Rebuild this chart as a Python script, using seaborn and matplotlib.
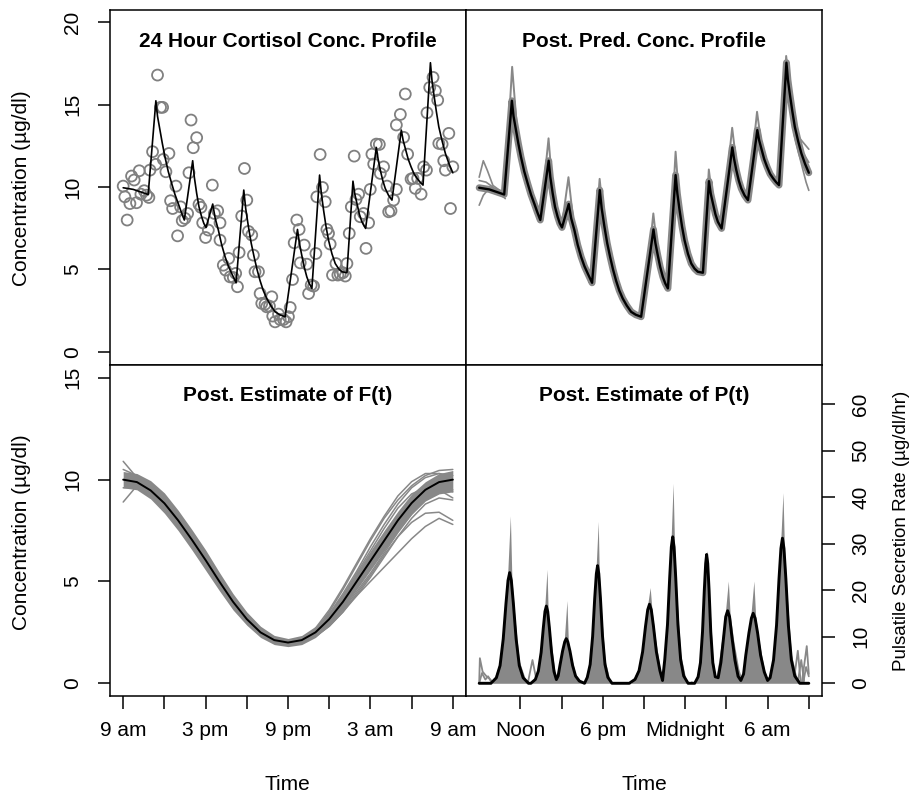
import matplotlib
matplotlib.use('Agg')
import matplotlib.pyplot as plt
import seaborn as sns

GREY = '#888888'
W, H = 911, 794

# observed cortisol samples (hours after 9 am, ug/dl)
obs_hours = [0.0, 0.12, 0.29, 0.49, 0.61, 0.8, 0.97, 1.17, 1.29, 1.53,
             1.7, 1.87, 1.95, 2.14, 2.36, 2.5, 2.72, 2.87, 2.92, 3.11,
             3.33, 3.45, 3.6, 3.84, 3.96, 4.18, 4.3, 4.5, 4.69, 4.79,
             4.94, 5.1, 5.35, 5.52, 5.66, 5.79, 6.0, 6.2, 6.49, 6.64,
             6.88, 7.05, 7.05, 7.29, 7.46, 7.68, 7.78, 8.02, 8.19, 8.32,
             8.44, 8.63, 8.83, 9.0, 9.12, 9.36, 9.48, 9.6, 9.85, 9.97,
             10.09, 10.33, 10.45, 10.65, 10.82, 10.89, 11.06, 11.31, 11.43, 11.67,
             11.86, 12.03, 12.16, 12.33, 12.45, 12.64, 12.81, 12.89, 13.18, 13.37,
             13.5, 13.69, 13.86, 14.03, 14.1, 14.34, 14.51, 14.71, 14.83, 14.95,
             15.07, 15.24, 15.49, 15.63, 15.8, 16.0, 16.17, 16.29, 16.46, 16.61,
             16.82, 16.95, 17.14, 17.26, 17.5, 17.68, 17.87, 17.99, 18.11, 18.24,
             18.43, 18.65, 18.72, 18.96, 19.21, 19.33, 19.5, 19.69, 19.89, 19.89,
             20.18, 20.42, 20.54, 20.71, 20.96, 21.1, 21.27, 21.44, 21.69, 21.88,
             22.08, 22.12, 22.32, 22.56, 22.73, 22.9, 22.98, 23.22, 23.34, 23.46,
             23.71, 23.83, 24.0]
obs_conc = [10.06, 9.41, 8.0, 9.0, 10.67, 10.43, 9.05, 10.99, 9.57, 9.78,
            9.51, 9.37, 11.03, 12.15, 11.38, 16.8, 14.84, 14.84, 11.68, 10.93,
            12.04, 9.17, 8.7, 10.06, 7.04, 8.8, 7.96, 8.1, 8.4, 10.87,
            14.07, 12.39, 13.0, 8.95, 8.77, 7.83, 6.94, 7.39, 10.12, 8.4,
            8.56, 7.83, 6.78, 5.26, 4.96, 5.67, 4.55, 4.51, 4.76, 3.95,
            6.03, 8.24, 11.13, 9.21, 7.31, 7.09, 5.87, 4.86, 4.86, 3.54,
            2.94, 2.89, 2.73, 2.77, 3.34, 2.17, 1.82, 2.29, 1.96, 1.96,
            1.82, 2.13, 2.69, 4.39, 6.62, 8.0, 7.43, 5.4, 6.48, 5.32,
            3.54, 4.05, 3.99, 5.97, 9.41, 11.98, 9.98, 9.11, 7.43, 7.19,
            6.54, 4.66, 5.36, 4.66, 4.72, 4.8, 4.6, 5.36, 7.19, 8.8,
            11.88, 9.25, 9.57, 8.2, 8.4, 6.28, 7.83, 9.86, 12.0, 11.4,
            12.61, 12.59, 10.83, 11.23, 10.06, 8.5, 8.56, 9.21, 9.86, 13.77,
            14.41, 13.02, 15.65, 12.0, 10.49, 10.53, 9.92, 10.53, 9.57, 11.23,
            11.03, 14.51, 16.05, 16.66, 15.85, 15.28, 12.65, 12.61, 11.6, 11.03,
            13.26, 8.7, 11.23]

# fitted concentration profile (also the posterior predictive mean)
fit_hours = [0, 0.73, 1.82, 2.38, 2.5, 2.67, 2.85, 3.04, 3.28, 3.53, 3.77, 4.01, 4.23, 4.45,
             5.06, 5.18, 5.35, 5.52, 5.71, 5.87, 6.03,
             6.52, 6.7, 6.93, 7.17, 7.42, 7.66, 7.9, 8.22,
             8.78, 8.92, 9.12, 9.32, 9.53, 9.75, 9.97, 10.2, 10.45, 10.75, 11.06, 11.4, 11.79,
             12.69, 12.83, 13.0, 13.18, 13.37, 13.55, 13.74,
             14.3, 14.43, 14.59, 14.77, 14.95, 15.2, 15.44, 15.68, 15.92, 16.29,
             16.73, 16.86, 17.02, 17.2, 17.38, 17.65,
             18.43, 18.56, 18.72, 18.9, 19.08, 19.32, 19.57,
             20.25, 20.38, 20.54, 20.75, 20.96, 21.18, 21.4, 21.62, 21.83,
             22.37, 22.48, 22.61, 22.8, 22.98, 23.22, 23.46, 23.73, 24.0]
fit_conc = [9.96, 9.86, 9.55, 15.24, 14.3, 13.5, 12.65, 11.84, 10.95, 10.22, 9.55, 9.0, 8.48, 8.0,
            11.6, 10.6, 9.62, 8.8, 8.2, 7.8, 7.55,
            8.97, 8.1, 7.39, 6.5, 5.77, 5.2, 4.76, 4.19,
            9.82, 8.7, 7.59, 6.6, 5.77, 4.98, 4.31, 3.72, 3.24, 2.8, 2.43, 2.25, 2.13,
            7.43, 6.6, 5.87, 5.15, 4.55, 4.15, 3.85,
            10.73, 9.6, 8.6, 7.6, 6.78, 5.95, 5.36, 5.05, 4.86, 4.8,
            10.36, 9.6, 9.0, 8.35, 7.89, 7.49,
            12.41, 11.7, 11.03, 10.4, 9.92, 9.5, 9.21,
            13.46, 12.85, 12.35, 11.7, 11.23, 10.8, 10.53, 10.3, 10.12,
            17.55, 16.5, 15.69, 14.6, 13.66, 12.8, 12.04, 11.4, 10.87]

# posterior predictive draws that overshoot the pulse tops
spike_hours = [(1.85, 2.4, 2.75), (4.45, 5.05, 5.35), (6.0, 6.5, 6.9),
               (8.2, 8.77, 9.1), (11.9, 12.68, 13.0), (13.75, 14.3, 14.6),
               (16.3, 16.72, 17.0), (17.65, 18.42, 18.75), (19.55, 20.23, 20.55),
               (21.85, 22.35, 22.65)]
spike_conc = [(9.6, 17.3, 13.6), (8.0, 12.96, 9.8), (7.55, 10.6, 7.6),
              (4.2, 10.5, 7.8), (2.1, 8.4, 6.0), (3.85, 12.15, 8.8),
              (4.8, 11.07, 9.2), (7.5, 13.6, 11.3), (9.2, 14.57, 12.6),
              (10.1, 17.96, 15.9)]
edge_hours = [[0, 0.3, 0.6, 1.0, 1.5], [0, 0.3, 0.7, 1.2, 1.8], [0, 0.5, 1.0, 1.9],
              [22.9, 23.3, 23.7, 24.0], [22.9, 23.4, 23.8, 24.0], [23.0, 23.5, 24.0]]
edge_conc = [[10.6, 11.6, 11.0, 10.1, 9.8], [8.9, 9.5, 9.9, 9.7, 9.4], [10.4, 10.3, 10.0, 9.3],
             [13.9, 13.0, 12.6, 12.3], [13.3, 11.6, 10.3, 9.8], [13.8, 12.2, 11.5]]

# basal concentration F(t)
base_hours = list(range(25))
base_mean = [10.0, 9.88, 9.47, 8.84, 8.0, 7.05, 6.05, 5.0, 4.0, 3.15, 2.5, 2.12, 2.0,
             2.12, 2.5, 3.15, 4.0, 5.0, 6.0, 7.0, 8.0, 8.85, 9.5, 9.88, 10.0]
base_upper = [10.4, 10.3, 9.95, 9.35, 8.5, 7.55, 6.55, 5.45, 4.4, 3.5, 2.8, 2.35, 2.2,
              2.35, 2.8, 3.5, 4.4, 5.45, 6.5, 7.5, 8.45, 9.3, 9.9, 10.3, 10.45]
base_lower = [9.6, 9.5, 9.05, 8.35, 7.5, 6.55, 5.55, 4.55, 3.6, 2.85, 2.25, 1.9, 1.8,
              1.9, 2.25, 2.85, 3.65, 4.6, 5.55, 6.5, 7.45, 8.3, 8.95, 9.3, 9.4]
fan_hours = list(range(14, 25))
fan_conc = [[2.6, 3.5, 4.6, 5.8, 7.0, 8.1, 9.0, 9.7, 10.2, 10.45, 10.5],
            [2.7, 3.6, 4.7, 5.9, 7.1, 8.2, 9.2, 9.9, 10.3, 10.3, 10.0],
            [2.4, 2.9, 3.6, 4.5, 5.4, 6.4, 7.4, 8.3, 9.0, 9.4, 9.5],
            [2.3, 2.8, 3.5, 4.3, 5.2, 6.2, 7.2, 8.1, 8.8, 9.1, 9.0],
            [2.4, 2.95, 3.6, 4.3, 5.0, 5.7, 6.4, 7.1, 7.7, 8.1, 7.8],
            [2.3, 2.8, 3.5, 4.4, 5.3, 6.3, 7.2, 7.9, 8.35, 8.4, 8.0],
            [2.5, 3.3, 4.3, 5.4, 6.5, 7.6, 8.6, 9.3, 9.6, 9.5, 9.1],
            [2.6, 3.4, 4.4, 5.5, 6.7, 7.8, 8.8, 9.6, 10.1, 10.3, 10.2],
            [2.4, 3.0, 3.8, 4.7, 5.7, 6.7, 7.7, 8.6, 9.3, 9.6, 9.4]]
early_hours = list(range(5))
early_conc = [[10.9, 10.1, 9.4, 8.8, 8.0],
              [8.9, 9.7, 9.5, 8.85, 8.0],
              [10.5, 10.2, 9.7, 9.0, 8.2],
              [9.6, 9.6, 9.3, 8.7, 7.9]]

# pulsatile secretion P(t): posterior mean
pulse_hours = [0, 0.86, 1.25, 1.52, 1.75, 1.95, 2.10, 2.22, 2.34, 2.49, 2.69, 2.92, 3.20, 3.59,
               3.77, 4.09, 4.31, 4.51, 4.67, 4.79, 4.89, 4.99, 5.11, 5.27, 5.45, 5.62,
               5.75, 5.88, 6.07, 6.23, 6.34, 6.45, 6.61, 6.80, 7.02, 7.29, 7.67,
               7.87, 8.08, 8.26, 8.41, 8.53, 8.62, 8.71, 8.83, 8.98, 9.16, 9.37, 9.67,
               10.93, 11.35, 11.64, 11.90, 12.11, 12.27, 12.4, 12.53, 12.69, 12.90, 13.16, 13.35,
               13.51, 13.71, 13.87, 13.99, 14.09, 14.19, 14.31, 14.47, 14.67, 14.89, 15.21,
               15.69, 15.94, 16.11, 16.26, 16.39, 16.49, 16.56, 16.64, 16.74, 16.86, 17.01, 17.19,
               17.4, 17.6, 17.8, 17.95, 18.09, 18.23, 18.4, 18.62, 18.85, 19.05,
               19.25, 19.41, 19.64, 19.82, 19.95, 20.09, 20.27, 20.49, 20.76, 21.0,
               21.18, 21.43, 21.65, 21.83, 21.97, 22.08, 22.19, 22.33, 22.51, 22.73, 22.98, 23.34, 24.0]
pulse_rate = [0, 0, 1.19, 3.81, 9.52, 17.14, 22.13, 23.8, 22.13, 17.14, 9.52, 3.81, 1.19, 0,
              0, 0.83, 2.66, 6.64, 11.95, 15.44, 16.6, 15.44, 11.95, 6.64, 2.5, 0.8,
              1.6, 3.84, 6.91, 8.93, 9.6, 8.93, 6.91, 3.84, 1.54, 0.48, 0,
              1.27, 4.05, 10.12, 18.22, 23.53, 25.3, 23.53, 18.22, 10.12, 4.05, 1.27, 0,
              0, 0.85, 2.72, 6.8, 12.24, 15.81, 17.0, 15.81, 12.24, 6.8, 2.72, 0.6,
              5.04, 12.6, 22.68, 29.3, 31.5, 29.3, 22.68, 12.6, 5.04, 1.58, 0,
              0, 1.39, 4.43, 11.08, 19.94, 25.76, 27.7, 25.76, 19.94, 11.08, 4.43, 1.39,
              1.2, 4.5, 10, 14.3, 15.6, 14.3, 10, 5, 1.5, 0.6,
              2.0, 6.02, 10.84, 14.0, 15.05, 14.0, 10.84, 6.02, 2.41, 0.6,
              1.2, 4.99, 12.48, 22.46, 29.02, 31.2, 29.02, 22.46, 12.48, 4.99, 1.56, 0, 0]
# upper edge of the posterior draws
band_hours = [0.97, 1.52, 1.83, 2.06, 2.27, 2.38, 2.61, 2.92, 3.47,
              3.87, 4.31, 4.57, 4.76, 4.94, 5.02, 5.21, 5.47, 5.64,
              5.96, 6.19, 6.39, 6.49, 6.72, 7.02, 7.56,
              7.66, 8.08, 8.32, 8.5, 8.67, 8.74, 8.92, 9.16, 9.58,
              11.06, 11.64, 11.98, 12.23, 12.45, 12.57, 12.82, 13.16, 13.35,
              13.51, 13.77, 13.96, 14.12, 14.22, 14.41, 14.67, 15.11, 15.3, 15.45, 15.6,
              15.76, 16.11, 16.31, 16.46, 16.58, 16.66, 16.81, 17.01, 17.22,
              17.45, 17.64, 17.91, 18.14, 18.27, 18.54, 18.9, 19.1,
              19.5, 19.77, 20.0, 20.13, 20.4, 20.76, 21.05,
              21.43, 21.72, 21.94, 22.12, 22.22, 22.44, 22.73, 23.23]
band_rate = [0, 4.76, 13.8, 22.6, 36, 22.6, 13.8, 4.76, 0,
             0, 3.32, 9.63, 15.77, 24.5, 15.77, 9.63, 3.32, 1.2,
             5.57, 9.12, 17.8, 9.12, 5.57, 1.92, 0,
             0, 5.06, 14.67, 24.04, 34.8, 24.04, 14.67, 5.06, 0,
             0, 3.4, 9.86, 16.15, 20.6, 16.15, 9.86, 3.4, 0.5,
             6.3, 18.27, 29.93, 43, 29.93, 18.27, 6.3, 0, 0, 0.6, 0,
             0, 5.54, 16.07, 26.3, 28.5, 26.3, 16.07, 5.54, 1.0,
             5.0, 9.05, 14.82, 22, 14.82, 9.05, 3.12, 1.2,
             8.73, 14.3, 22, 14.3, 8.73, 3.01, 0.5,
             6.24, 18.1, 29.64, 41, 29.64, 18.1, 6.24, 0]
noise_hours = [[0, 0.05, 0.25, 0.5, 0.75, 1.0], [0, 0.2, 0.45, 0.65, 0.9], [3.55, 3.88, 4.15],
               [22.9, 23.2, 23.4], [23.2, 23.45, 23.65], [23.5, 23.85, 24.0], [23.6, 23.8, 24.0]]
noise_rate = [[0, 5.4, 2.5, 1.6, 1.0, 0.2], [0, 2.2, 0.8, 1.5, 0.2], [0.2, 5.0, 1.0],
              [0.3, 7.0, 0.5], [0.3, 5.0, 0.5], [0.3, 8.0, 2.0], [0.2, 3.5, 1.5]]

clock_ticks = list(range(0, 25, 3))
left_labels = ['9 am', '', '3 pm', '', '9 pm', '', '3 am', '', '9 am']
right_labels = ['Noon', '', '6 pm', '', 'Midnight', '', '6 am', '']


def frame(ax):
    for side in ['left', 'right', 'top', 'bottom']:
        ax.spines[side].set_visible(True)
        ax.spines[side].set_color('black')
        ax.spines[side].set_linewidth(1.1)
    ax.set_xlim(-0.96, 24.96)
    ax.set_xticks([])
    ax.set_yticks([])
    ax.tick_params(direction='out', length=9, width=1.1, labelsize=15, colors='black',
                   bottom=False, top=False, left=False, right=False)


def panel_title(ax, text, y):
    ax.text(0.5, y, text, transform=ax.transAxes, ha='center', va='baseline',
            fontsize=15, fontweight='bold')


def rotate_ylabels(ax, ha):
    for lab in ax.get_yticklabels():
        lab.set_rotation(90)
        lab.set_va('center')
        lab.set_ha(ha)


def main():
    sns.set_style('white')
    plt.rcParams['font.family'] = ['Liberation Sans', 'DejaVu Sans']
    plt.rcParams['text.color'] = 'black'

    fig = plt.figure(figsize=(W / 100, H / 100), dpi=100)
    ax_tl = fig.add_axes([110 / W, 1 - 365 / H, 356 / W, 355 / H])
    ax_tr = fig.add_axes([466 / W, 1 - 365 / H, 356 / W, 355 / H])
    ax_bl = fig.add_axes([110 / W, 1 - 695.7 / H, 356 / W, 330.7 / H])
    ax_br = fig.add_axes([466 / W, 1 - 695.7 / H, 356 / W, 330.7 / H])

    # top left: data and fit
    sns.scatterplot(x=obs_hours, y=obs_conc, ax=ax_tl, marker='o', s=62,
                    facecolor='none', edgecolor='#808080', linewidth=1.3, zorder=2)
    sns.lineplot(x=fit_hours, y=fit_conc, ax=ax_tl, color='black', lw=1.2,
                 sort=False, estimator=None, zorder=3)
    frame(ax_tl)
    ax_tl.set_ylim(-0.8, 20.75)
    ax_tl.set_yticks([0, 5, 10, 15, 20])
    ax_tl.tick_params(axis='y', left=True, pad=11)
    rotate_ylabels(ax_tl, 'right')
    panel_title(ax_tl, '24 Hour Cortisol Conc. Profile', 0.896)

    # top right: posterior predictive profiles
    sns.lineplot(x=fit_hours, y=fit_conc, ax=ax_tr, color=GREY, lw=5,
                 sort=False, estimator=None)
    for th, cv in zip(spike_hours, spike_conc):
        ax_tr.plot(th, cv, color=GREY, lw=1.4)
    for th, cv in zip(edge_hours, edge_conc):
        ax_tr.plot(th, cv, color=GREY, lw=1.2)
    sns.lineplot(x=fit_hours, y=fit_conc, ax=ax_tr, color='black', lw=1.7,
                 sort=False, estimator=None)
    frame(ax_tr)
    ax_tr.set_ylim(-0.8, 20.75)
    panel_title(ax_tr, 'Post. Pred. Conc. Profile', 0.896)

    # bottom left: basal concentration
    ax_bl.fill_between(base_hours, base_lower, base_upper, color=GREY, lw=0)
    for cv in fan_conc:
        ax_bl.plot(fan_hours, cv, color=GREY, lw=1.1)
    for cv in early_conc:
        ax_bl.plot(early_hours, cv, color=GREY, lw=1.1)
    sns.lineplot(x=base_hours, y=base_mean, ax=ax_bl, color='black', lw=1.4,
                 sort=False, estimator=None)
    frame(ax_bl)
    ax_bl.set_ylim(-0.61, 15.63)
    ax_bl.set_yticks([0, 5, 10, 15])
    ax_bl.set_xticks(clock_ticks)
    ax_bl.set_xticklabels(left_labels)
    ax_bl.tick_params(axis='y', left=True, pad=11)
    ax_bl.tick_params(axis='x', bottom=True, pad=9)
    rotate_ylabels(ax_bl, 'right')
    panel_title(ax_bl, 'Post. Estimate of F(t)', 0.891)

    # bottom right: pulsatile secretion
    ax_br.fill_between(band_hours, 0, band_rate, color=GREY, lw=0)
    for th, rv in zip(noise_hours, noise_rate):
        ax_br.plot(th, rv, color=GREY, lw=1.3)
    sns.lineplot(x=pulse_hours, y=pulse_rate, ax=ax_br, color='black', lw=2.1,
                 sort=False, estimator=None)
    frame(ax_br)
    ax_br.set_ylim(-2.67, 68.45)
    ax_br.yaxis.tick_right()
    ax_br.set_yticks([0, 10, 20, 30, 40, 50, 60])
    ax_br.set_xticks(clock_ticks[1:])
    ax_br.set_xticklabels(right_labels)
    ax_br.tick_params(axis='y', right=True, left=False, pad=12)
    ax_br.tick_params(axis='x', bottom=True, pad=9)
    rotate_ylabels(ax_br, 'left')
    panel_title(ax_br, 'Post. Estimate of P(t)', 0.891)

    # axis titles
    for ax in [ax_tl, ax_tr, ax_bl, ax_br]:
        ax.set_xlabel('')
        ax.set_ylabel('')
    fig.text(27.5 / W, 1 - 188 / H, 'Concentration (\u00b5g/dl)', rotation=90,
             rotation_mode='anchor', ha='center', va='baseline', fontsize=15)
    fig.text(27.5 / W, 1 - 532 / H, 'Concentration (\u00b5g/dl)', rotation=90,
             rotation_mode='anchor', ha='center', va='baseline', fontsize=15)
    fig.text(906 / W, 1 - 531 / H, 'Pulsatile Secretion Rate (\u00b5g/dl/hr)', rotation=90,
             rotation_mode='anchor', ha='center', va='baseline', fontsize=13.5)
    fig.text(287.8 / W, 1 - 790 / H, 'Time', ha='center', va='baseline', fontsize=15)
    fig.text(644.5 / W, 1 - 790 / H, 'Time', ha='center', va='baseline', fontsize=15)

    fig.savefig('out.png', dpi=100, facecolor='white')


if __name__ == '__main__':
    main()
